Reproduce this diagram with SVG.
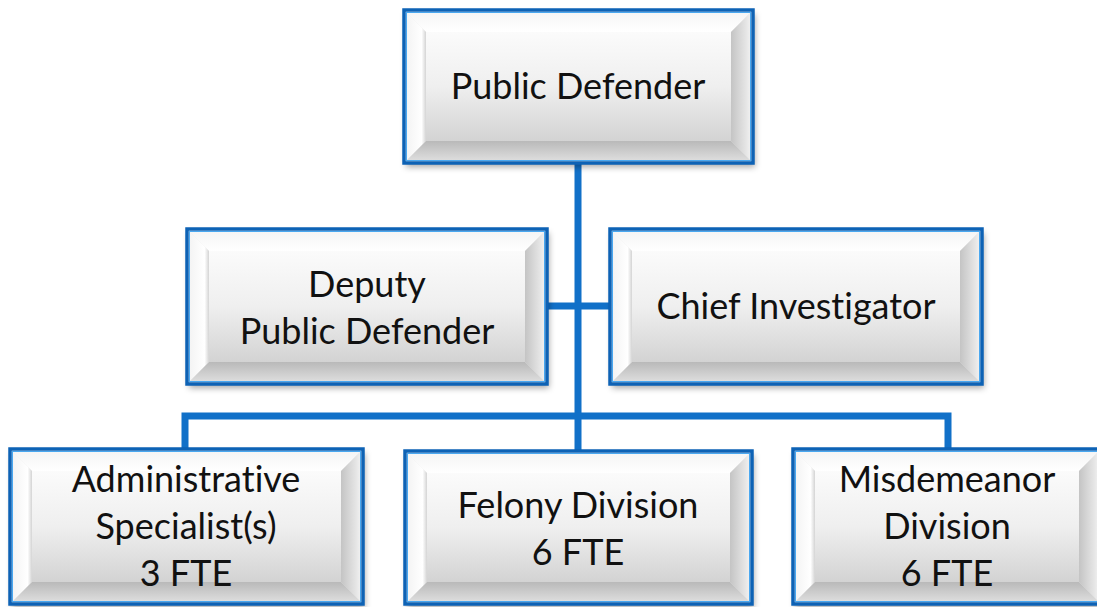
<svg xmlns="http://www.w3.org/2000/svg" width="1097" height="607" viewBox="0 0 1097 607">
<style>
.base{fill:#ececec;filter:url(#sh)}
.bt{fill:url(#gTop)}
.bl{fill:url(#gLeft)}
.br{fill:url(#gRight)}
.bb{fill:url(#gBot)}
.panel{fill:url(#gPanel)}
.frame{fill:none;stroke:#0d62b5;stroke-width:3.5}
.hi{fill:none;stroke:#4aa8f0;stroke-width:1}
.conn{fill:none;stroke:#1170c8;stroke-width:7;stroke-linejoin:miter}
text{font-family:Lato,"Liberation Sans",sans-serif;font-size:36px;fill:#111;text-anchor:middle;font-variant-ligatures:none;font-feature-settings:"liga" 0,"clig" 0}
</style>
<defs>
<filter id="sh" x="-10%" y="-10%" width="125%" height="130%">
<feDropShadow dx="2" dy="4" stdDeviation="3" flood-color="#000" flood-opacity="0.35"/>
</filter>
<linearGradient id="gTop" x1="0" y1="0" x2="0" y2="1"><stop offset="0" stop-color="#f4f4f4"/><stop offset="1" stop-color="#ffffff"/></linearGradient>
<linearGradient id="gLeft" x1="0" y1="0" x2="1" y2="0"><stop offset="0" stop-color="#f2f2f2"/><stop offset="0.8" stop-color="#ffffff"/><stop offset="1" stop-color="#d4d4d4"/></linearGradient>
<linearGradient id="gRight" x1="0" y1="0" x2="1" y2="0"><stop offset="0" stop-color="#c4c4c4"/><stop offset="0.7" stop-color="#e6e6e6"/><stop offset="1" stop-color="#f7f7f7"/></linearGradient>
<linearGradient id="gBot" x1="0" y1="0" x2="0" y2="1"><stop offset="0" stop-color="#b9b9b9"/><stop offset="1" stop-color="#e2e2e2"/></linearGradient>
<linearGradient id="gPanel" x1="0" y1="0" x2="0" y2="1"><stop offset="0" stop-color="#fbfbfb"/><stop offset="0.5" stop-color="#efefef"/><stop offset="1" stop-color="#d3d3d3"/></linearGradient>
</defs>

<g id="connectors">
<path class="conn" d="M578,163 V451"/>
<path class="conn" d="M547,306 H610"/>
<path class="conn" d="M185,449 V416 H948 V449"/>
</g>

<g id="n-public-defender">
<rect class="base" x="404" y="10" width="349" height="153"/>
<polygon class="bt" points="404,10 753,10 731,32 426,32"/>
<polygon class="bl" points="404,10 426,32 426,141 404,163"/>
<polygon class="br" points="753,10 753,163 731,141 731,32"/>
<polygon class="bb" points="404,163 753,163 731,141 426,141"/>
<rect class="panel" x="426" y="32" width="305" height="109"/>
<rect class="frame" x="404" y="10" width="349" height="153"/>
<rect class="hi" x="406.5" y="12.5" width="344" height="148"/>
<text x="578" y="99">Public Defender</text>
</g>

<g id="n-deputy">
<rect class="base" x="187" y="229" width="360" height="155"/>
<polygon class="bt" points="187,229 547,229 525,251 209,251"/>
<polygon class="bl" points="187,229 209,251 209,362 187,384"/>
<polygon class="br" points="547,229 547,384 525,362 525,251"/>
<polygon class="bb" points="187,384 547,384 525,362 209,362"/>
<rect class="panel" x="209" y="251" width="316" height="111"/>
<rect class="frame" x="187" y="229" width="360" height="155"/>
<rect class="hi" x="189.5" y="231.5" width="355" height="150"/>
<text x="367" y="297">Deputy</text>
<text x="367" y="344">Public Defender</text>
</g>

<g id="n-chief">
<rect class="base" x="610" y="229" width="372" height="155"/>
<polygon class="bt" points="610,229 982,229 960,251 632,251"/>
<polygon class="bl" points="610,229 632,251 632,362 610,384"/>
<polygon class="br" points="982,229 982,384 960,362 960,251"/>
<polygon class="bb" points="610,384 982,384 960,362 632,362"/>
<rect class="panel" x="632" y="251" width="328" height="111"/>
<rect class="frame" x="610" y="229" width="372" height="155"/>
<rect class="hi" x="612.5" y="231.5" width="367" height="150"/>
<text x="796" y="319">Chief Investigator</text>
</g>

<g id="n-admin">
<rect class="base" x="10" y="449" width="353" height="155"/>
<polygon class="bt" points="10,449 363,449 341,471 32,471"/>
<polygon class="bl" points="10,449 32,471 32,582 10,604"/>
<polygon class="br" points="363,449 363,604 341,582 341,471"/>
<polygon class="bb" points="10,604 363,604 341,582 32,582"/>
<rect class="panel" x="32" y="471" width="309" height="111"/>
<rect class="frame" x="10" y="449" width="353" height="155"/>
<rect class="hi" x="12.5" y="451.5" width="348" height="150"/>
<text x="186" y="492">Administrative</text>
<text x="186" y="539">Specialist(s)</text>
<text x="186" y="586">3 FTE</text>
</g>

<g id="n-felony">
<rect class="base" x="405" y="451" width="347" height="153"/>
<polygon class="bt" points="405,451 752,451 730,473 427,473"/>
<polygon class="bl" points="405,451 427,473 427,582 405,604"/>
<polygon class="br" points="752,451 752,604 730,582 730,473"/>
<polygon class="bb" points="405,604 752,604 730,582 427,582"/>
<rect class="panel" x="427" y="473" width="303" height="109"/>
<rect class="frame" x="405" y="451" width="347" height="153"/>
<rect class="hi" x="407.5" y="453.5" width="342" height="148"/>
<text x="578" y="518">Felony Division</text>
<text x="578" y="565">6 FTE</text>
</g>

<g id="n-misdemeanor">
<rect class="base" x="793" y="449" width="308" height="155"/>
<polygon class="bt" points="793,449 1101,449 1079,471 815,471"/>
<polygon class="bl" points="793,449 815,471 815,582 793,604"/>
<polygon class="br" points="1101,449 1101,604 1079,582 1079,471"/>
<polygon class="bb" points="793,604 1101,604 1079,582 815,582"/>
<rect class="panel" x="815" y="471" width="264" height="111"/>
<rect class="frame" x="793" y="449" width="308" height="155"/>
<rect class="hi" x="795.5" y="451.5" width="303" height="150"/>
<text x="947" y="492">Misdemeanor</text>
<text x="947" y="539">Division</text>
<text x="947" y="586">6 FTE</text>
</g>
</svg>
